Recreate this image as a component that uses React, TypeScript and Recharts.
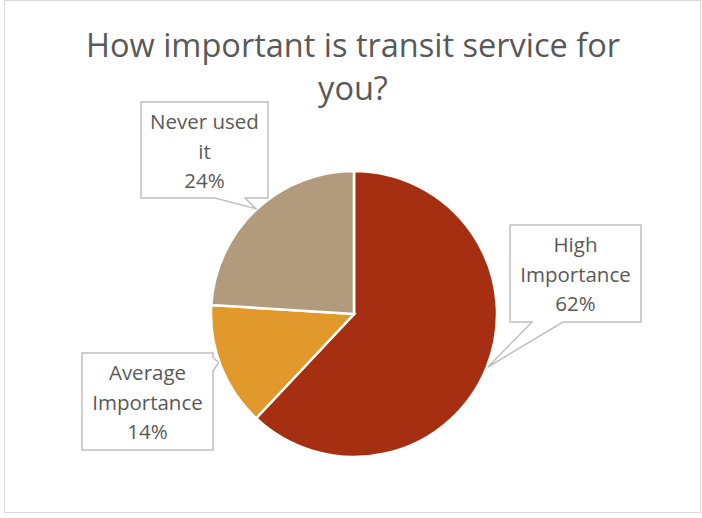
import { PieChart, Pie, Cell } from 'recharts';

const categories = ['High Importance', 'Average Importance', 'Never used it'];
const shares = [62, 14, 24];
const labelLines = [
  ['High', 'Importance', '62%'],
  ['Average', 'Importance', '14%'],
  ['Never used', 'it', '24%'],
];
const COLORS = ['#A52F10', '#E0992A', '#B29B7C'];

const data = categories.map((name, i) => ({ name, value: shares[i] }));

// callout box placement relative to the pie centre, tip angle in recharts degrees
const CALLOUTS = [
  { box: [156, -89, 131, 97], tip: -21.6, base: [[22, 97], [53, 97]] },
  { box: [-272, 39, 131, 97], tip: -160.2, base: [[131, 4], [131, 18]] },
  { box: [-213, -212, 127, 96], tip: 133, base: [[74, 96], [104, 96]] },
];

const RAD = Math.PI / 180;

function renderCallout(props: any) {
  const { cx, cy, outerRadius, index } = props;
  const c = CALLOUTS[index];
  const [dx, dy, w, h] = c.box;
  const x = cx + dx;
  const y = cy + dy;
  const tx = cx + (outerRadius + 1) * Math.cos(-c.tip * RAD);
  const ty = cy + (outerRadius + 1) * Math.sin(-c.tip * RAD);
  const [b1, b2] = c.base;
  let pts: number[][];
  if (b1[1] === h) {
    // pointer on the bottom edge
    pts = [[x, y], [x + w, y], [x + w, y + h], [x + b2[0], y + h], [tx, ty], [x + b1[0], y + h], [x, y + h]];
  } else {
    // pointer on the right edge
    pts = [[x, y], [x + w, y], [x + w, y + b1[1]], [tx, ty], [x + w, y + b2[1]], [x + w, y + h], [x, y + h]];
  }
  const lines = labelLines[index];
  return (
    <g key={`callout-${index}`}>
      <polygon
        points={pts.map((p) => p.join(',')).join(' ')}
        fill="#ffffff"
        stroke="#BFBFBF"
        strokeWidth={1.5}
      />
      {lines.map((t, i) => (
        <text
          key={i}
          x={x + w / 2}
          y={y + 27 + i * 29.5}
          textAnchor="middle"
          fill="#595959"
          fontSize={20.5}
          fontFamily="'Open Sans', sans-serif"
        >
          {t}
        </text>
      ))}
    </g>
  );
}

export default function App() {
  return (
    <div style={{ position: 'relative', width: 702, height: 518, background: '#ffffff' }}>
      <style>{'body { margin: 0; }'}</style>
      <div
        style={{
          position: 'absolute',
          left: 4,
          top: 0,
          width: 695,
          height: 511,
          border: '1.5px solid #D9D9D9',
        }}
      />
      <div
        style={{
          position: 'absolute',
          left: 0,
          top: 23,
          width: 706,
          textAlign: 'center',
          fontFamily: "'Open Sans', sans-serif",
          fontSize: 32.5,
          lineHeight: '43px',
          color: '#595959',
        }}
      >
        How important is transit service for
        <br />
        you?
      </div>
      <div style={{ position: 'absolute', left: 0, top: 0 }}>
        <PieChart width={702} height={518} margin={{ top: 0, right: 0, bottom: 0, left: 0 }}>
          <Pie
            data={data}
            dataKey="value"
            nameKey="name"
            cx={354}
            cy={314}
            outerRadius={143}
            startAngle={90}
            endAngle={-270}
            stroke="#ffffff"
            strokeWidth={2.5}
            labelLine={false}
            label={renderCallout}
            isAnimationActive={false}
          >
            {data.map((entry, index) => (
              <Cell key={`cell-${index}`} fill={COLORS[index]} />
            ))}
          </Pie>
        </PieChart>
      </div>
    </div>
  );
}
